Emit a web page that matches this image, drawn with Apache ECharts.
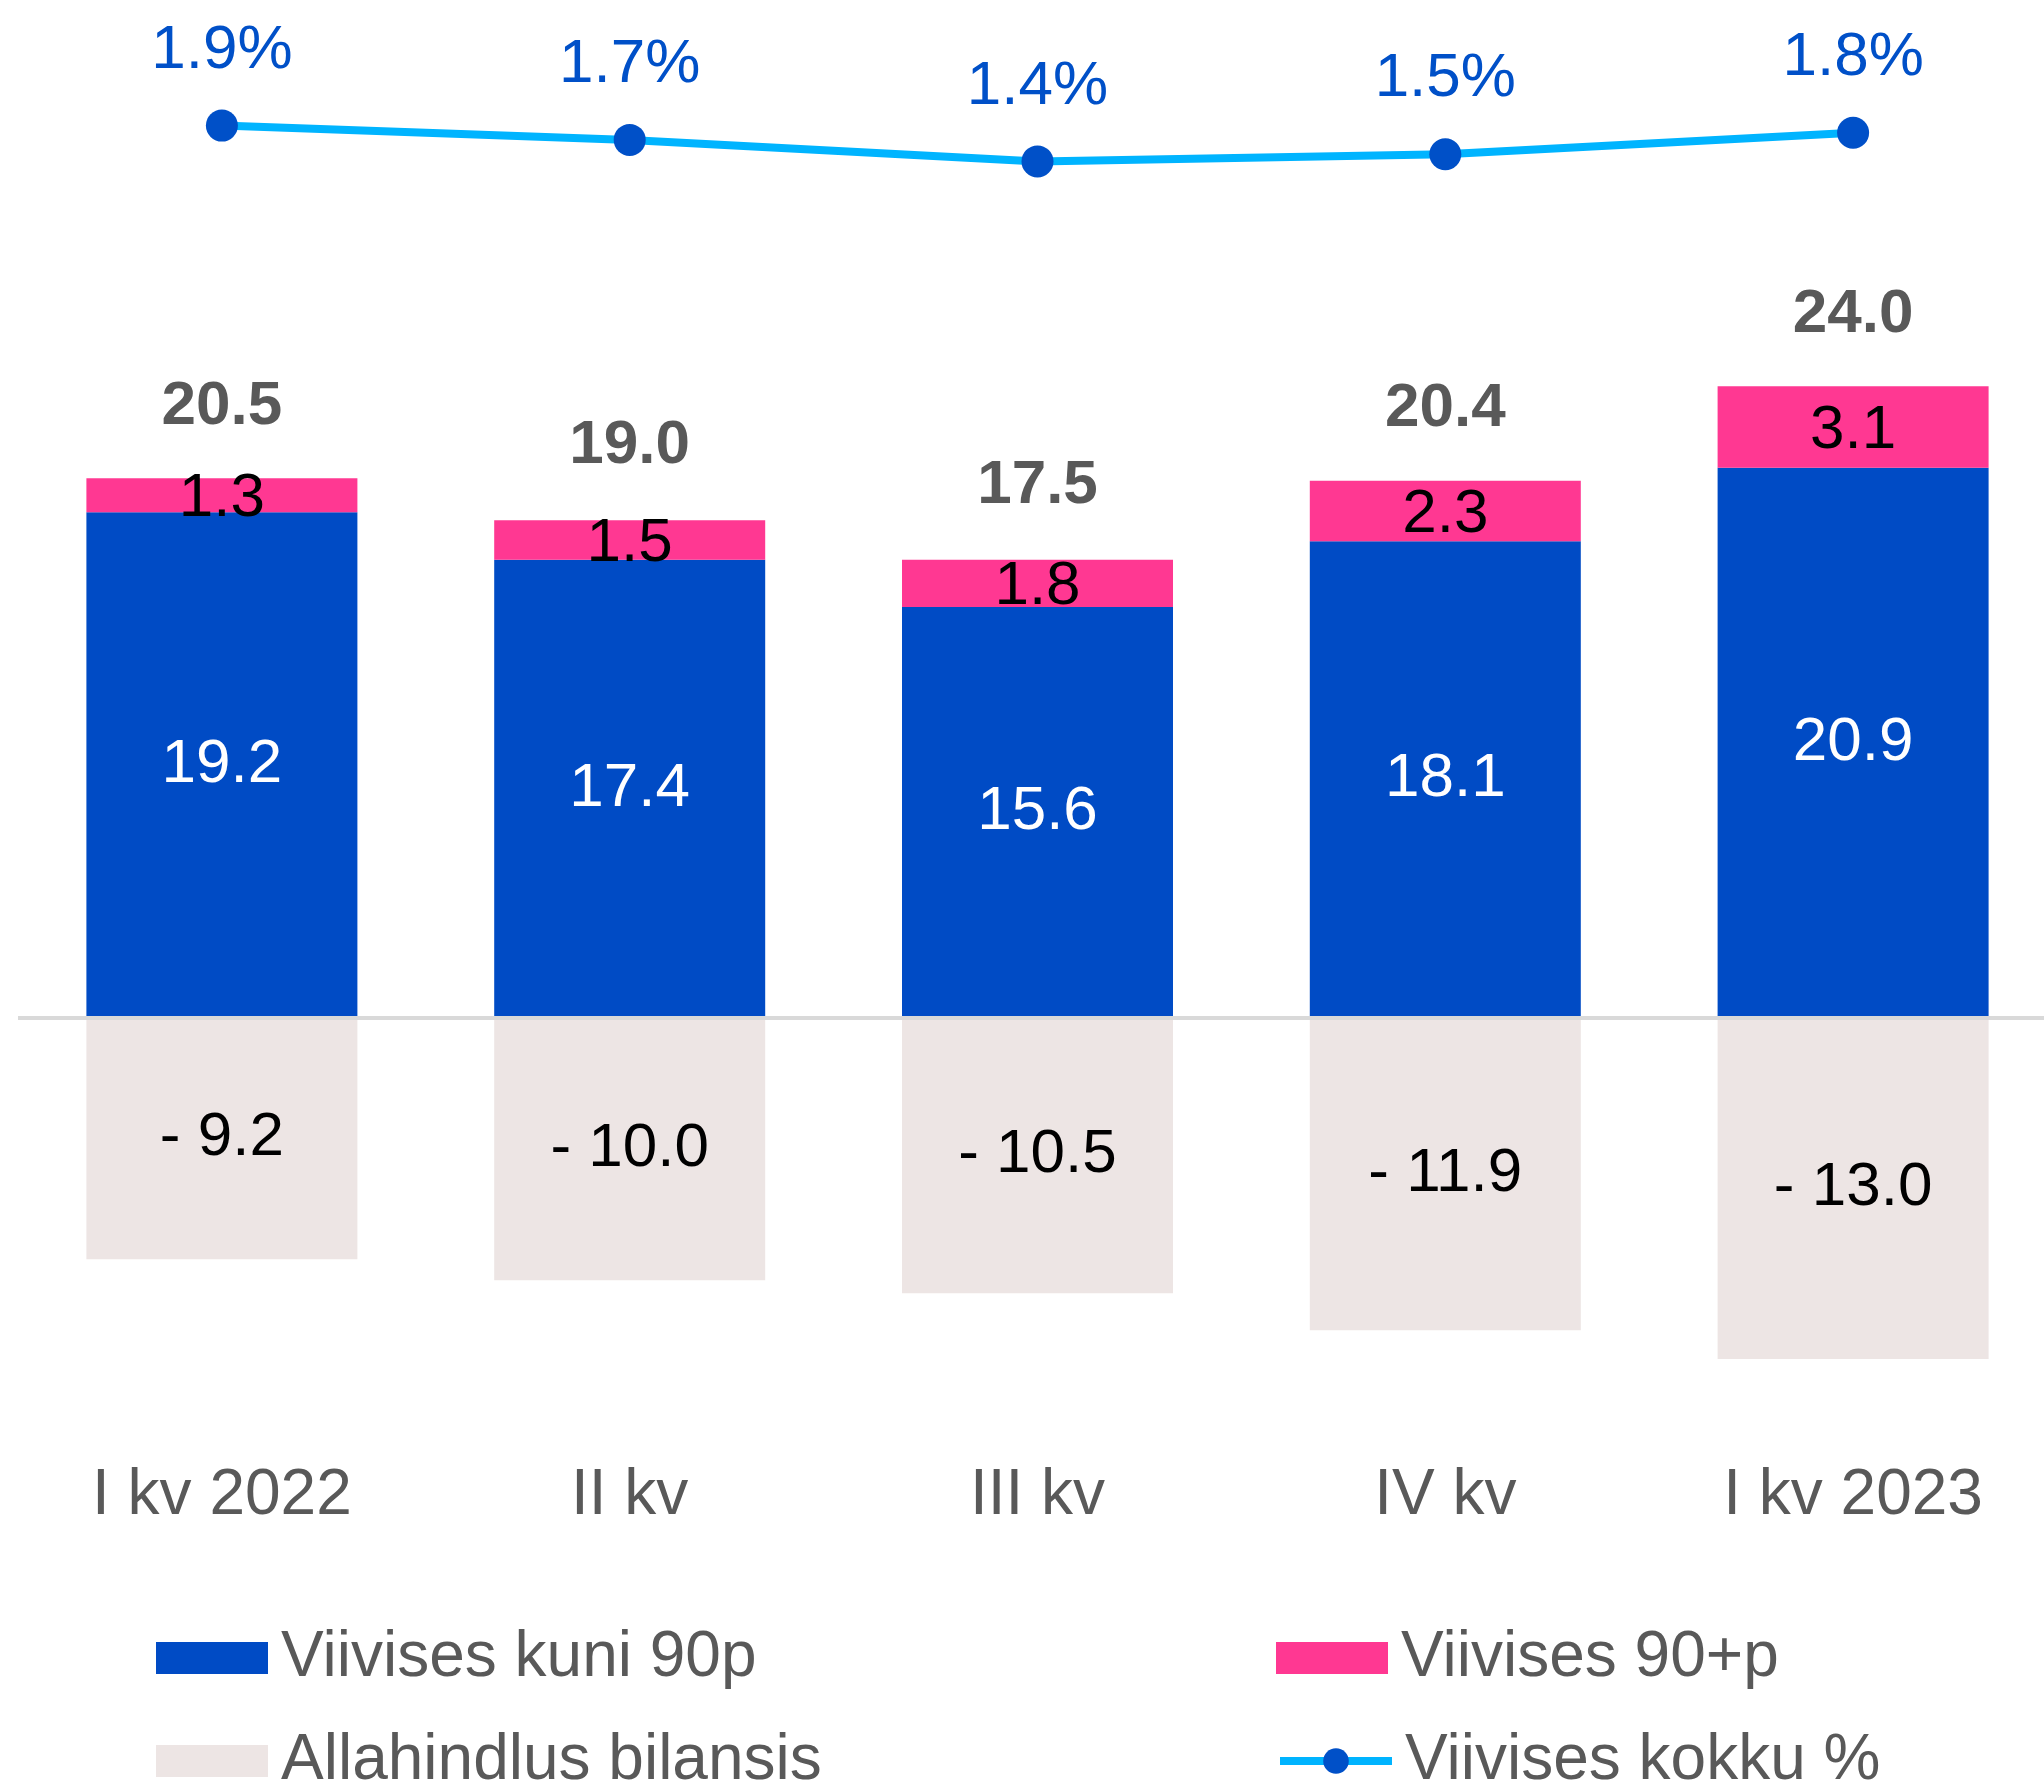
<!DOCTYPE html>
<html>
<head>
<meta charset="utf-8">
<script src="https://cdn.jsdelivr.net/npm/echarts@6/dist/echarts.min.js"></script>
<style>
  html, body { margin: 0; padding: 0; background: #fff; overflow: hidden; }
  #chart { width: 2057px; height: 1784px; }
</style>
</head>
<body>
<div id="chart"></div>
<script>
// kvartalid
var categories = ['I kv 2022', 'II kv', 'III kv', 'IV kv', 'I kv 2023'];
// viivises kuni 90 päeva
var upTo90 = [19.2, 17.4, 15.6, 18.1, 20.9];
// viivises üle 90 päeva
var over90 = [1.3, 1.5, 1.8, 2.3, 3.1];
// allahindlus bilansis (negatiivne)
var writeDown = [-9.2, -10.0, -10.5, -11.9, -13.0];
// kokku (pealmine silt)
var totals = [20.5, 19.0, 17.5, 20.4, 24.0];
// viivises kokku %
var overduePct = [1.9, 1.7, 1.4, 1.5, 1.8];

var FONT = '"Liberation Sans", Arial, sans-serif';
var GREY_TXT = '#595959';

function legendBox(name, left, top) {
  return {
    data: [{ name: name }],
    left: left,
    top: top,
    padding: 0,
    itemWidth: 112,
    itemHeight: 32,
    itemGap: 0,
    selectedMode: false,
    lineStyle: { width: 8 },
    textStyle: { fontFamily: FONT, fontSize: 64, color: GREY_TXT, padding: [0, 0, 0, 8] }
  };
}

var chart = echarts.init(document.getElementById('chart'));
var option = {
  animation: false,
  textStyle: { fontFamily: FONT },
  // plot runs a little past the right edge, like the original
  grid: { left: 18, right: 0, top: 18, bottom: 346, containLabel: false },
  legend: [
    Object.assign(legendBox('Viivises kuni 90p', 156, 1626), { icon: 'rect' }),
    Object.assign(legendBox('Viivises 90+p', 1276, 1626), { icon: 'rect' }),
    Object.assign(legendBox('Allahindlus bilansis', 156, 1729), { icon: 'rect' }),
    legendBox('Viivises kokku %', 1276, 1729)
  ],
  xAxis: {
    type: 'category',
    data: categories,
    axisLine: { show: false, onZero: false },
    axisTick: { show: false },
    axisLabel: { fontFamily: FONT, fontSize: 64, color: GREY_TXT, margin: 26 }
  },
  yAxis: [
    { type: 'value', min: -16, max: 38, show: false, splitLine: { show: false } },
    { type: 'value', min: -16.4, max: 3.4, show: false, splitLine: { show: false } }
  ],
  series: [
    {
      name: 'Viivises kuni 90p',
      type: 'bar',
      stack: 'a',
      barWidth: 271,
      data: upTo90,
      itemStyle: { color: '#004BC5' },
      label: {
        show: true, position: 'inside', color: '#fff', fontSize: 62, fontFamily: FONT,
        formatter: function (p) { return p.value.toFixed(1); }
      },
      markLine: {
        silent: true,
        symbol: 'none',
        label: { show: false },
        lineStyle: { color: '#D9D9D9', width: 4, type: 'solid' },
        data: [{ yAxis: 0 }]
      }
    },
    {
      name: 'Viivises 90+p',
      type: 'bar',
      stack: 'a',
      barWidth: 271,
      data: over90,
      itemStyle: { color: '#FF3892' },
      label: {
        show: true, position: 'inside', offset: [0, 4], color: '#000', fontSize: 62, fontFamily: FONT,
        formatter: function (p) { return p.value.toFixed(1); }
      }
    },
    {
      name: 'Allahindlus bilansis',
      type: 'bar',
      stack: 'a',
      barWidth: 271,
      data: writeDown,
      itemStyle: { color: '#EDE5E4' },
      label: {
        show: true, position: 'inside', color: '#000', fontSize: 62, fontFamily: FONT,
        formatter: function (p) { return '- ' + Math.abs(p.value).toFixed(1); }
      }
    },
    {
      name: 'Kokku',
      type: 'scatter',
      data: totals,
      symbolSize: 1,
      itemStyle: { color: 'rgba(0,0,0,0)', opacity: 1 },
      label: {
        show: true, position: 'top', distance: 40, color: GREY_TXT, fontWeight: 'bold',
        fontSize: 62, fontFamily: FONT, opacity: 1,
        formatter: function (p) { return p.value.toFixed(1); }
      }
    },
    {
      name: 'Viivises kokku %',
      type: 'line',
      yAxisIndex: 1,
      data: overduePct,
      symbol: 'circle',
      symbolSize: 32,
      lineStyle: { color: '#00B4FF', width: 8 },
      itemStyle: { color: '#0050C8' },
      label: {
        show: true, position: 'top', distance: 28, color: '#0050C8', fontSize: 62, fontFamily: FONT,
        formatter: function (p) { return p.value.toFixed(1) + '%'; }
      }
    }
  ]
};
chart.setOption(option);
</script>
</body>
</html>
